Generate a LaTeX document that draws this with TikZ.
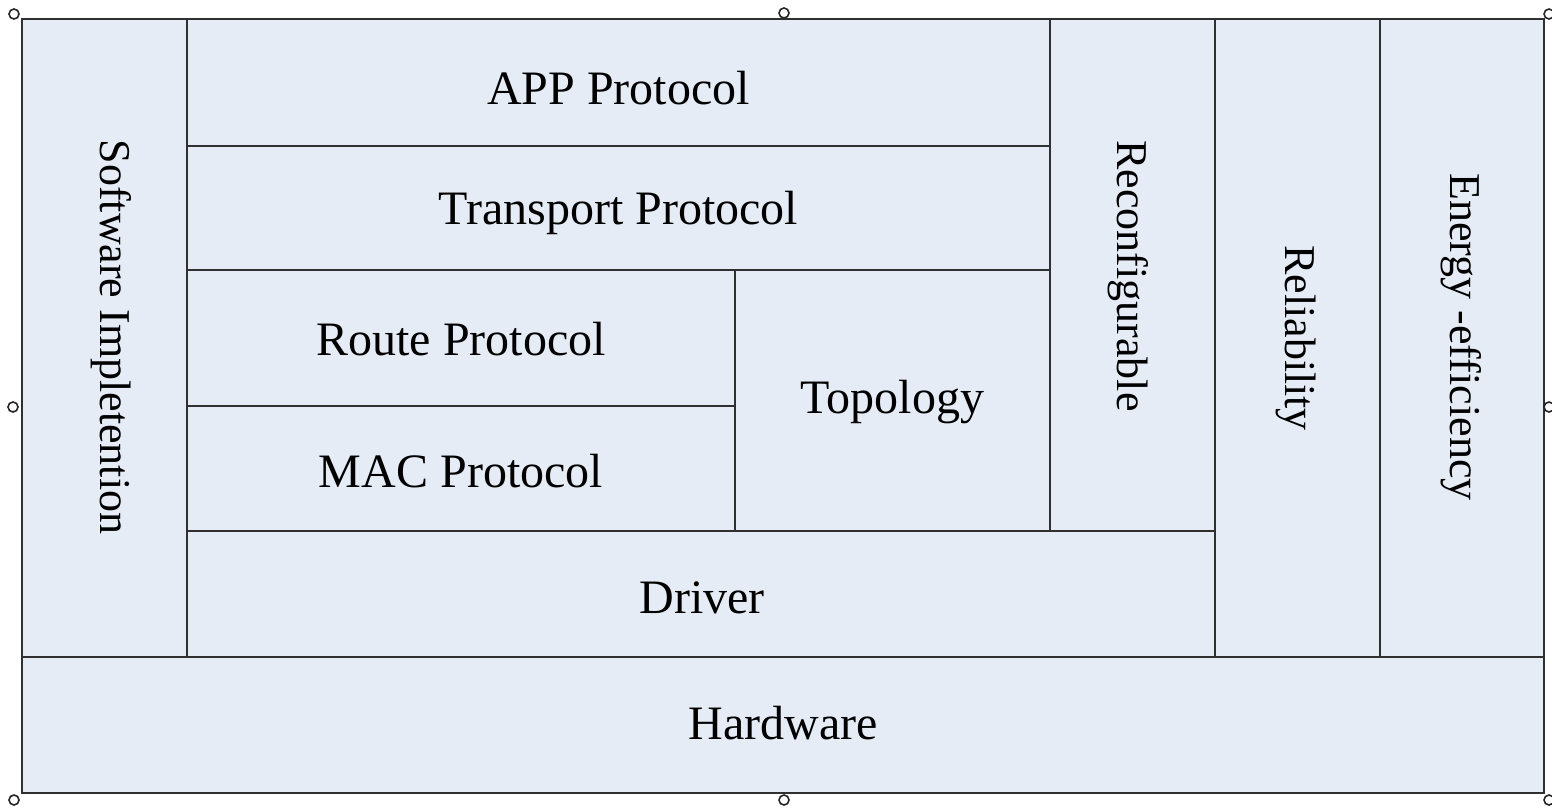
\documentclass[tikz,border=0pt]{standalone}
\usepackage{fontspec}
\setmainfont{Liberation Serif}
\definecolor{layerfill}{HTML}{E6ECF6}
\definecolor{layerline}{HTML}{303030}
\tikzset{
  layer/.style={draw=layerline, fill=layerfill, line width=2.2pt},
  lbl/.style={font=\fontsize{48}{56}\selectfont, text=black, inner sep=0pt},
  vlbl/.style={font=\fontsize{44}{52}\selectfont, text=black, inner sep=0pt, rotate=-90},
  handle/.style={draw=black!85, fill=white, line width=1.6pt}
}
\begin{document}
\begin{tikzpicture}[x=1pt,y=-1pt]
  \useasboundingbox (0,0) rectangle (1552,807);
  % stack of layers
  \draw[layer] (22,19) rectangle (187,657);
  \draw[layer] (187,19) rectangle (1050,146);
  \draw[layer] (187,146) rectangle (1050,270);
  \draw[layer] (187,270) rectangle (735,406);
  \draw[layer] (187,406) rectangle (735,531);
  \draw[layer] (735,270) rectangle (1050,531);
  \draw[layer] (1050,19) rectangle (1215,531);
  \draw[layer] (187,531) rectangle (1215,657);
  \draw[layer] (1215,19) rectangle (1380,657);
  \draw[layer] (1380,19) rectangle (1544,657);
  \draw[layer] (22,657) rectangle (1544,793);
  % labels
  \node[vlbl] (soft) at (111,337) {Software Impletention};
  \node[lbl] (app) at (618.5,88) {APP Protocol};
  \node[lbl] (trans) at (618.5,213) {Transport Protocol};
  \node[lbl] (route) at (461,339) {Route Protocol};
  \node[lbl] (mac) at (461,471) {MAC Protocol};
  \node[lbl] (topo) at (892.5,402) {Topology};
  \node[vlbl] (reconf) at (1128,276) {Reconfigurable};
  \node[lbl] (drv) at (702,598) {Driver};
  \node[vlbl] (rel) at (1296,338) {Reliability};
  \node[vlbl] (energy) at (1461,337) {Energy -efficiency};
  \node[lbl] (hw) at (783,723) {Hardware};
  % selection handles
  \foreach \p in {(14,14),(784,13),(1549,14),(13,407),(1549,407),(14,800),(784,800),(1549,800)}
    \draw[handle] \p circle (5);
\end{tikzpicture}
\end{document}
